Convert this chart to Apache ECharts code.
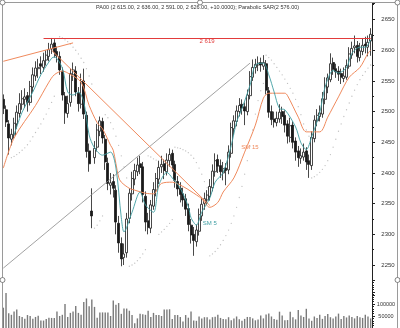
<!DOCTYPE html>
<html><head><meta charset="utf-8">
<script src="https://cdn.jsdelivr.net/npm/echarts@6.0.0/dist/echarts.min.js"></script>
<style>html,body{margin:0;padding:0;background:#fff}#c{width:400px;height:328px}</style>
</head><body><div id="c"></div>
<script>
const titleText = 'PA00 (2 615.00, 2 636.00, 2 591.00, 2 626.00, +10.0000); Parabolic SAR(2 576.00)';
const priceTicks = [2250, 2300, 2350, 2400, 2450, 2500, 2550, 2600, 2650];
const volumeTicks = [50000, 100000];

const open = [2520,2503,2480,2455,2462,2480,2497,2512,2520,2526,
2515,2540,2558,2570,2578,2572,2584,2590,2602,2612,
2598,2590,2566,2525,2497,2515,2560,2566,2530,2512,
2550,2494,2436,2338,2425,2442,2468,2484,2455,2416,
2380,2386,2372,2318,2285,2262,2270,2326,2366,2390,
2402,2415,2410,2362,2322,2310,2346,2372,2390,2410,
2415,2402,2420,2432,2414,2386,2375,2366,2358,2342,
2315,2300,2288,2305,2330,2350,2356,2362,2376,2402,
2422,2412,2400,2408,2405,2432,2472,2484,2500,2512,
2508,2500,2526,2556,2572,2576,2580,2574,2578,2534,
2500,2488,2482,2488,2500,2494,2480,2458,2478,2452,
2436,2424,2426,2436,2420,2412,2456,2485,2492,2496,
2520,2540,2552,2580,2570,2566,2562,2554,2556,2574,
2592,2604,2608,2588,2598,2610,2605,2615];
const close = [2505,2483,2457,2463,2481,2499,2513,2521,2524,2515,
2541,2560,2571,2572,2574,2583,2592,2601,2610,2597,
2591,2568,2527,2498,2513,2562,2568,2532,2513,2549,
2496,2435,2415,2330,2440,2470,2485,2457,2418,2383,
2384,2375,2320,2286,2260,2268,2325,2367,2391,2404,
2413,2409,2365,2320,2311,2348,2373,2391,2409,2414,
2404,2421,2430,2413,2388,2374,2365,2356,2341,2316,
2299,2290,2307,2332,2349,2358,2364,2378,2403,2420,
2411,2402,2407,2404,2434,2474,2485,2501,2510,2506,
2501,2527,2557,2572,2577,2579,2576,2580,2535,2499,
2487,2483,2489,2499,2492,2478,2460,2477,2450,2434,
2425,2428,2434,2418,2414,2458,2486,2494,2498,2521,
2542,2555,2578,2569,2565,2561,2556,2558,2575,2594,
2603,2607,2590,2599,2608,2607,2613,2626];
const high = [2528,2510,2486,2472,2490,2510,2530,2535,2538,2532,
2550,2572,2582,2586,2590,2596,2600,2612,2620,2618,
2606,2598,2572,2532,2526,2570,2580,2574,2540,2562,
2570,2500,2448,2375,2452,2480,2492,2490,2462,2425,
2400,2398,2380,2330,2295,2285,2335,2375,2402,2415,
2425,2428,2418,2370,2335,2356,2385,2400,2420,2428,
2422,2432,2440,2438,2420,2395,2385,2376,2366,2350,
2325,2312,2316,2342,2360,2368,2372,2390,2414,2432,
2430,2422,2418,2416,2445,2482,2494,2510,2522,2520,
2515,2536,2566,2585,2586,2590,2588,2592,2584,2540,
2510,2500,2500,2512,2508,2502,2486,2490,2484,2458,
2444,2440,2448,2442,2430,2468,2494,2504,2510,2532,
2556,2562,2595,2588,2578,2574,2570,2572,2585,2605,
2614,2624,2615,2612,2620,2622,2624,2636];
const low = [2496,2475,2430,2445,2456,2472,2490,2503,2506,2500,
2510,2532,2550,2555,2561,2565,2575,2582,2594,2588,
2580,2560,2518,2480,2490,2508,2550,2525,2500,2505,
2488,2425,2402,2310,2415,2435,2460,2448,2405,2372,
2365,2360,2300,2270,2248,2250,2262,2318,2355,2380,
2395,2398,2352,2305,2300,2302,2340,2362,2382,2400,
2390,2396,2410,2402,2376,2362,2352,2345,2330,2305,
2285,2265,2280,2298,2322,2340,2348,2355,2370,2394,
2400,2392,2388,2380,2398,2425,2462,2476,2492,2495,
2478,2494,2520,2550,2562,2566,2565,2568,2528,2490,
2478,2474,2476,2482,2480,2466,2448,2450,2440,2420,
2410,2415,2420,2405,2392,2405,2450,2476,2484,2490,
2512,2530,2548,2560,2555,2550,2545,2548,2552,2570,
2586,2595,2580,2582,2592,2595,2590,2591];
const volume = [84600,146000,61500,55000,69000,77000,50000,46000,38500,54000,
50000,38500,46000,51000,31000,31000,38000,43000,42000,42000,
69000,50000,55000,100000,46000,63000,69000,92000,63000,55000,
108000,123000,91000,119000,88000,43000,65000,65000,65000,65000,
50000,115000,97000,104000,59000,81000,81000,72000,54000,20000,
40000,59000,57000,55000,72000,46000,63000,54000,54000,50000,
77000,77000,78000,38000,54000,54000,46000,27000,54000,43000,
69000,31000,30000,48000,40000,45000,45000,35000,45000,47000,
55000,42000,38000,36000,45000,32000,40000,48000,36000,30000,
38000,46000,46000,40000,32000,35000,52000,40000,56000,60000,
48000,38000,34000,68000,52000,32000,33000,68000,45000,36000,
75000,52000,46000,80000,40000,30000,48000,42000,55000,38000,
50000,58000,45000,40000,48000,60000,38000,50000,44000,52000,
46000,40000,50000,45000,42000,55000,48000,40000];
// simple moving averages: [candle index, value]
const sm15 = [[0,2408],[4,2457],[12,2510],[17,2548],[19,2560],[22,2566],[24,2563],[29,2548],[32,2510],[35,2482],[37,2472],[40,2445],[41,2437],[43,2393],[44,2385],[47,2375],[49,2372],[53,2367],[56,2366],[59,2383],[63,2385],[67,2378],[70,2370],[74,2358],[77,2344],[80,2352],[82,2369],[86,2392],[90,2434],[94,2478],[97,2522],[99,2530],[105,2530],[106,2526],[110,2491],[113,2467],[118,2467],[121,2491],[125,2524],[129,2556],[133,2572],[136,2595],[137,2600]];
const sm5 = [[4,2462],[7,2499],[11,2532],[14,2560],[18,2587],[19,2589],[22,2571],[24,2532],[26,2527],[28,2532],[30,2516],[32,2462],[34,2441],[37,2429],[40,2434],[42,2408],[44,2327],[45,2304],[48,2336],[51,2369],[53,2348],[56,2336],[58,2380],[61,2401],[63,2392],[66,2375],[69,2345],[70,2327],[72,2315],[74,2336],[77,2359],[79,2385],[82,2401],[85,2445],[87,2483],[89,2505],[92,2543],[94,2576],[97,2579],[99,2560],[101,2532],[103,2505],[105,2503],[109,2475],[111,2449],[113,2438],[115,2459],[118,2498],[120,2540],[123,2567],[125,2563],[128,2572],[130,2595],[133,2605],[135,2605],[137,2617]];
const sar = [null,null,null,
2425,2427,2430,2433,2437,2441,2446,2452,2459,2466,2473,2480,2488,2496,2505,2515,2525,
null,
2622,2620,2617,2614,2610,2605,2600,2594,2587,2580,2570,2558,2545,
2310,2315,2322,2330,
2495,2490,2482,2472,2460,2445,2428,2410,2392,
2248,2250,2253,2257,2262,2268,2275,
2428,2426,2423,2421,
2300,2304,2308,2313,2318,2324,
2442,2441,2440,2438,2436,2433,2429,2424,2417,2408,2398,2386,2376,
2265,2268,2272,2277,2283,2290,2298,2307,2318,2330,2344,2360,2378,2398,2420,2444,2470,2496,2518,2534,2546,
2592,2588,2584,2578,2572,2566,2560,2553,2546,2538,2530,2520,2508,2495,2480,2470,2460,
2392,2394,2397,2401,2406,2412,2420,2430,2442,2455,2468,2480,2492,2503,2514,2525,2535,2544,2552,2559,2565,2571,2576];
const resistance = 2619;
const categories = close.map((_, i) => 'D' + (i + 1));

const chart = echarts.init(document.getElementById('c'), null, {renderer: 'canvas'});
const axisCol = '#222', labCol = '#333';
const candleData = open.map((o, i) => [o, close[i], low[i], high[i]]);
const sarData = [];
sar.forEach((v, i) => { if (v != null) sarData.push([i, v]); });

chart.setOption({
  animation: false,
  backgroundColor: '#fff',
  title: {text: titleText, left: 96, top: 4, padding: 0, textStyle: {fontSize: 5.5, fontWeight: 'normal', color: '#333', fontFamily: 'Liberation Sans'}},
  grid: [
    {left: 2, right: 28, top: 3, height: 292.7},
    {left: 2, right: 28, top: 280, height: 52}
  ],
  xAxis: [
    {type: 'category', data: categories, gridIndex: 0, boundaryGap: true, show: false},
    {type: 'category', data: categories, gridIndex: 1, boundaryGap: true, show: false}
  ],
  yAxis: [
    {type: 'value', gridIndex: 0, position: 'right', min: 2200, max: 2677, interval: 50,
     axisLine: {show: true, lineStyle: {color: axisCol, width: 1}},
     axisTick: {show: true, length: 3, lineStyle: {color: axisCol}},
     minorTick: {show: true, splitNumber: 2, length: 2, lineStyle: {color: axisCol}},
     splitLine: {show: false},
     axisLabel: {fontSize: 6, color: labCol, fontFamily: 'Liberation Sans', align: 'center', margin: 16,
       showMaxLabel: false,
       formatter: v => priceTicks.indexOf(v) >= 0 ? String(v) : ''}},
    {type: 'value', gridIndex: 1, position: 'right', min: 0, max: 200000, interval: 50000,
     axisLine: {show: true, lineStyle: {color: axisCol, width: 1}},
     axisTick: {show: true, length: 3, lineStyle: {color: axisCol}},
     minorTick: {show: true, splitNumber: 5, length: 2, lineStyle: {color: axisCol}},
     splitLine: {show: false},
     axisLabel: {fontSize: 5.5, color: labCol, fontFamily: 'Liberation Sans', align: 'center', margin: 14,
       formatter: v => volumeTicks.indexOf(v) >= 0 ? String(v) : ''}}
  ],
  series: [
    {type: 'scatter', name: 'SAR', xAxisIndex: 0, yAxisIndex: 0, data: sarData, symbol: 'circle', symbolSize: 1.3,
     itemStyle: {color: '#b0b0b0'}, z: 1},
    {type: 'candlestick', name: 'PA00', xAxisIndex: 0, yAxisIndex: 0, data: candleData, barWidth: 2.5,
     itemStyle: {color: '#ffffff', color0: '#1a1a1a', borderColor: '#1a1a1a', borderColor0: '#1a1a1a', borderWidth: 0.8},
     z: 3,
     markLine: {silent: true, symbol: ['none', 'none'], animation: false,
       label: {show: false},
       data: [
         [{coord: [15, resistance], lineStyle: {color: '#e23b3b', width: 1, type: 'solid'},
           label: {show: true, formatter: '2 619', position: 'insideMiddleBottom', color: '#e23b3b', fontSize: 6, distance: 0, fontFamily: 'Liberation Sans'}},
          {coord: [137, resistance]}],
         [{coord: [0, 2245], lineStyle: {color: '#8a8a8a', width: 0.8, type: 'solid'}}, {coord: [92, 2579]}],
         [{coord: [0, 2582], lineStyle: {color: '#f08a5d', width: 1, type: 'solid'}}, {coord: [26, 2612]}],
         [{coord: [18, 2600], lineStyle: {color: '#f08a5d', width: 1, type: 'solid'}}, {coord: [77, 2347]}]
       ]}},
    {type: 'line', name: 'SM 15', xAxisIndex: 0, yAxisIndex: 0, data: sm15, showSymbol: false, smooth: 0.3,
     lineStyle: {color: '#f08a5d', width: 1}, itemStyle: {color: '#f08a5d'}, z: 4,
     markPoint: {symbol: 'circle', symbolSize: 0, data: [{coord: [92, 2441]}],
       label: {show: true, formatter: 'SM 15', position: 'inside', color: '#f08a5d', fontSize: 6, fontFamily: 'Liberation Sans'}}},
    {type: 'line', name: 'SM 5', xAxisIndex: 0, yAxisIndex: 0, data: sm5, showSymbol: false, smooth: 0.3,
     lineStyle: {color: '#3f9ea3', width: 0.9}, itemStyle: {color: '#3f9ea3'}, z: 4,
     markPoint: {symbol: 'circle', symbolSize: 0, data: [{coord: [77, 2318]}],
       label: {show: true, formatter: 'SM 5', position: 'inside', color: '#3f9ea3', fontSize: 6, fontFamily: 'Liberation Sans'}}},
    {type: 'bar', name: 'Volume', xAxisIndex: 1, yAxisIndex: 1, data: volume, barWidth: 1.4,
     itemStyle: {color: '#7a7a7a'}}
  ],
  graphic: [
    {type: 'rect', shape: {x: 2.5, y: 2.5, width: 395, height: 340}, style: {fill: 'none', stroke: '#9a9a9a', lineWidth: 1}, silent: true, z: 100},
    {type: 'circle', shape: {cx: 2.5, cy: 2.5, r: 2.5}, style: {fill: '#fff', stroke: '#666', lineWidth: 0.8}, z: 101},
    {type: 'circle', shape: {cx: 200, cy: 2.5, r: 2.5}, style: {fill: '#fff', stroke: '#666', lineWidth: 0.8}, z: 101},
    {type: 'circle', shape: {cx: 397.5, cy: 2.5, r: 2.5}, style: {fill: '#fff', stroke: '#666', lineWidth: 0.8}, z: 101},
    {type: 'circle', shape: {cx: 2.5, cy: 280, r: 2.5}, style: {fill: '#fff', stroke: '#666', lineWidth: 0.8}, z: 101},
    {type: 'circle', shape: {cx: 397.5, cy: 280, r: 2.5}, style: {fill: '#fff', stroke: '#666', lineWidth: 0.8}, z: 101}
  ]
});
</script></body></html>
